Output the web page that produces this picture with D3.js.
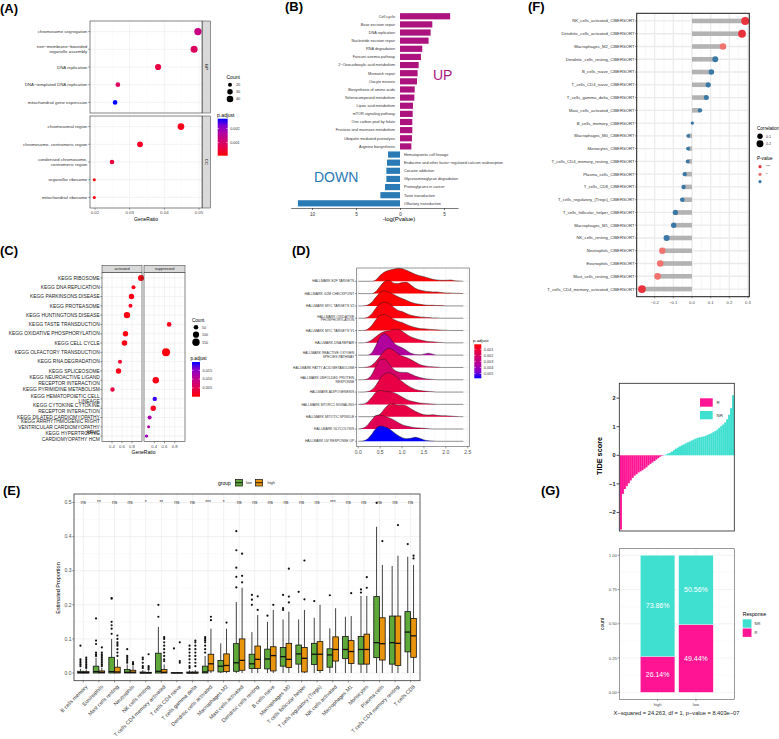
<!DOCTYPE html>
<html><head><meta charset="utf-8">
<script src="https://cdn.jsdelivr.net/npm/d3@7"></script>
<style>body{margin:0;background:#fff}svg{display:block;font-family:"Liberation Sans",Arial,sans-serif}</style>
</head><body><svg id="fig" width="779" height="739"></svg>
<script>
// ---------- (A) GO enrichment ----------
const goTermsBP = ["chromosome segregation","non\u2212membrane\u2212bounded\norganelle assembly","DNA replication","DNA\u2212templated DNA replication","mitochondrial gene expression"];
const goRatioBP = [0.0497,0.0486,0.0382,0.0266,0.0258];
const goCountBP = [47,44,36,24,24];
const goPadjBP = [0.0013,0.0009,0.0006,0.0009,0.0027];
const goTermsCC = ["chromosomal region","chromosome, centromeric region","condensed chromosome,\ncentromeric region","organellar ribosome","mitochondrial ribosome"];
const goRatioCC = [0.0448,0.033,0.0249,0.0198,0.0198];
const goCountCC = [41,33,24,15,15];
const goPadjCC = [0.0002,0.0003,0.0005,0.0001,0.0001];

// ---------- (B) KEGG up/down ----------
const keggUp = ["Cell cycle","Base excision repair","DNA replication","Nucleotide excision repair","RNA degradation","Fanconi anemia pathway","2\u2212Oxocarboxylic acid metabolism","Mismatch repair","Oocyte meiosis","Biosynthesis of amino acids","Selenocompound metabolism","Lipoic acid metabolism","mTOR signaling pathway","One carbon pool by folate","Fructose and mannose metabolism","Ubiquitin mediated proteolysis","Arginine biosynthesis"];
const keggUpVal = [5.7,3.67,3.48,3.25,2.53,2.38,2.12,2.0,1.93,1.67,1.63,1.48,1.44,1.4,1.4,1.36,1.29];
const keggDown = ["Hematopoietic cell lineage","Endocrine and other factor\u2212regulated calcium reabsorption","Cocaine addiction","Glycosaminoglycan degradation","Proteoglycans in cancer","Taste transduction","Olfactory transduction"];
const keggDownVal = [-1.36,-1.48,-1.55,-1.55,-1.7,-2.23,-11.6];

// ---------- (C) GSEA KEGG ----------
const gseaTerms = ["KEGG RIBOSOME","KEGG DNA REPLICATION","KEGG PARKINSONS DISEASE","KEGG PROTEASOME","KEGG HUNTINGTONS DISEASE","KEGG TASTE TRANSDUCTION","KEGG OXIDATIVE PHOSPHORYLATION","KEGG CELL CYCLE","KEGG OLFACTORY TRANSDUCTION","KEGG RNA DEGRADATION","KEGG SPLICEOSOME","KEGG NEUROACTIVE LIGAND\nRECEPTOR INTERACTION","KEGG PYRIMIDINE METABOLISM","KEGG HEMATOPOIETIC CELL\nLINEAGE","KEGG CYTOKINE CYTOKINE\nRECEPTOR INTERACTION","KEGG DILATED CARDIOMYOPATHY","KEGG ARRHYTHMOGENIC RIGHT\nVENTRICULAR CARDIOMYOPATHY\nARVC","KEGG HYPERTROPHIC\nCARDIOMYOPATHY HCM"];
const gseaGroup = ["activated","activated","activated","activated","activated","suppressed","activated","activated","suppressed","activated","activated","suppressed","activated","suppressed","suppressed","suppressed","suppressed","suppressed"];
const gseaRatio = [0.98,0.83,0.79,0.77,0.70,0.69,0.67,0.65,0.63,0.56,0.53,0.43,0.41,0.41,0.38,0.31,0.29,0.25];
const gseaCount = [94,35,74,35,110,50,74,80,180,35,74,110,45,45,74,35,14,21];
const gseaPadj = [0.0005,0.0008,0.0006,0.0015,0.0007,0.0008,0.0006,0.0007,0.0005,0.002,0.0008,0.0008,0.004,0.019,0.0012,0.013,0.012,0.014];

// ---------- (D) hallmark ridges ----------
const hallTerms = ["HALLMARK E2F TARGETS","HALLMARK G2M CHECKPOINT","HALLMARK MYC TARGETS V2","HALLMARK OXIDATIVE\nPHOSPHORYLATION","HALLMARK MYC TARGETS V1","HALLMARK DNA REPAIR","HALLMARK REACTIVE OXYGEN\nSPECIES PATHWAY","HALLMARK FATTY ACID METABOLISM","HALLMARK UNFOLDED PROTEIN\nRESPONSE","HALLMARK ADIPOGENESIS","HALLMARK MTORC1 SIGNALING","HALLMARK MITOTIC SPINDLE","HALLMARK GLYCOLYSIS","HALLMARK UV RESPONSE UP"];
const hallPadj = [0.0002,0.0002,0.0002,0.0003,0.0003,0.001,0.0035,0.0015,0.0022,0.0013,0.0014,0.0013,0.0017,0.0058];
const ridgeX = [0,0.1,0.2,0.3,0.4,0.5,0.6,0.7,0.8,0.9,1.0,1.1,1.2,1.3,1.4,1.5,1.6,1.7,1.8,1.9,2.0,2.1,2.2,2.3,2.4];
const ridgeDensity = [
  [0,0,0,0,4,18,28,33,36,39,38,33,27,21,17,14,10,6,4,3,3,4,2,1,0],
  [0,0,0,0,6,22,36,40,32,30,33,34,26,16,11,8,6,5,5,3,2,2,1,1,0],
  [0,0,2,10,26,40,45,41,35,28,22,17,11,7,5,3,2,2,1,1,0,0,0,0,0],
  [0,0,2,12,30,44,48,44,34,24,20,14,9,6,4,3,2,1,1,0,0,0,0,0,0],
  [0,0,3,14,32,46,48,42,34,28,24,18,13,9,6,5,4,3,2,1,1,0,0,0,0],
  [0,0,2,8,18,28,34,36,40,41,35,26,18,13,9,6,4,3,2,1,0,0,0,0,0],
  [0,0,0,6,28,55,64,55,38,28,22,14,6,2,1,3,6,3,0,0,0,0,0,0,0],
  [0,0,1,6,18,34,50,57,52,42,34,30,24,16,9,5,3,2,1,0,0,0,0,0,0],
  [0,0,2,14,40,60,62,48,32,24,22,22,17,11,7,4,2,1,0,0,0,0,0,0,0],
  [0,0,1,6,20,40,54,58,52,42,32,22,14,8,5,3,2,1,0,0,0,0,0,0,0],
  [0,1,6,20,36,42,40,38,36,30,22,15,10,7,4,3,2,1,0,0,0,0,0,0,0],
  [0,0,0,0,2,8,24,36,38,34,35,32,24,16,10,6,5,6,4,3,3,2,1,0,0],
  [0,2,10,26,40,42,38,34,28,20,13,9,6,4,3,2,1,0,0,0,0,0,0,0,0],
  [0,1,6,20,38,46,44,38,28,18,11,8,9,12,9,4,2,1,0,0,0,0,0,0,0]
];

// ---------- (E) CIBERSORT boxplots ----------
const immuneCells = ["B cells memory","Eosinophils","Mast cells resting","Neutrophils","NK cells resting","T cells CD4 memory activated","T cells CD4 naive","T cells gamma delta","Dendritic cells activated","Macrophages M2","Mast cells activated","Dendritic cells resting","B cells naive","Macrophages M0","T cells follicular helper","T cells regulatory (Tregs)","NK cells activated","Macrophages M1","Monocytes","Plasma cells","T cells CD4 memory resting","T cells CD8"];
const immuneSig = ["ns","**","ns","ns","*","**","ns","ns","***","*","ns","ns","ns","ns","ns","ns","***","ns","ns","ns","ns","ns"];
// [lower whisker, Q1, median, Q3, upper whisker]
const lowStats = [[0,0,0.001,0.005,0.012],[0,0,0.004,0.02,0.045],[0,0,0.004,0.046,0.1],[0,0,0.002,0.01,0.025],[0,0,0,0.003,0.008],[0,0,0.005,0.058,0.135],[0,0,0,0.001,0.003],[0,0,0,0.003,0.008],[0,0,0.003,0.02,0.05],[0,0.003,0.02,0.037,0.087],[0,0.005,0.03,0.086,0.208],[0,0.013,0.027,0.055,0.12],[0,0.012,0.041,0.07,0.15],[0,0.02,0.048,0.075,0.157],[0,0.026,0.056,0.082,0.157],[0,0.025,0.055,0.087,0.162],[0,0.017,0.053,0.071,0.131],[0,0.042,0.069,0.107,0.165],[0,0.026,0.069,0.107,0.226],[0,0.045,0.089,0.224,0.429],[0,0.026,0.089,0.167,0.314],[0,0.062,0.12,0.18,0.341]];
const highStats = [[0,0,0.001,0.004,0.01],[0,0,0.002,0.006,0.015],[0,0,0.003,0.017,0.04],[0,0,0.002,0.008,0.02],[0,0,0,0.002,0.005],[0,0,0.002,0.01,0.025],[0,0,0,0.001,0.003],[0,0,0,0.003,0.008],[0,0.006,0.027,0.055,0.13],[0,0.004,0.022,0.056,0.13],[0,0.008,0.037,0.1,0.25],[0,0.013,0.04,0.079,0.17],[0,0.006,0.051,0.077,0.185],[0,0.016,0.04,0.087,0.18],[0,0.003,0.043,0.075,0.185],[0,0.007,0.055,0.092,0.2],[0,0.035,0.069,0.106,0.19],[0,0.028,0.063,0.095,0.167],[0,0.026,0.069,0.114,0.226],[0,0.038,0.086,0.162,0.317],[0,0.022,0.087,0.167,0.344],[0,0.046,0.109,0.16,0.317]];
const lowOut = [[0.08,0.04,0.035,0.03,0.025,0.02],[0.16,0.095,0.085,0.06,0.055,0.05],[0.22,0.218,0.15,0.14,0.13,0.115],[0.07,0.05,0.045,0.04,0.035,0.03],[0.045,0.04,0.03,0.02,0.015],[0.2,0.165],[0.072],[0.08,0.07,0.06,0.05,0.04,0.03,0.02,0.015],[0.105,0.1,0.095,0.09,0.08,0.07,0.06],[],[0.416,0.36,0.309,0.282,0.251],[0.229,0.215,0.2],[0.168],[0.229,0.19,0.185],[0.238],[0.211],[0.228],[],[0.245,0.236],[0.499],[],[0.378]];
const highOut = [[0.045,0.04,0.035,0.03,0.025,0.02,0.015],[0.075,0.06,0.055,0.05,0.045,0.04,0.035,0.03,0.025,0.02],[0.11,0.1,0.09,0.085,0.08,0.07,0.06,0.05],[0.032,0.028,0.025],[0.055,0.02,0.015,0.01],[0.105,0.1,0.09,0.08,0.07,0.06,0.05,0.04,0.035],[0.09,0.035,0.03],[0.095,0.09,0.08,0.07,0.06,0.05,0.04,0.03,0.02],[0.165,0.155],[0.148],[0.35,0.285,0.266],[0.225,0.185],[0.2],[0.306,0.224,0.207],[0.33,0.216],[],[],[0.234],[0.281,0.25],[0.387],[0.434],[0.344,0.336]];

// ---------- (F) correlation lollipop ----------
const ciberCells = ["NK_cells_activated_CIBERSORT","Dendritic_cells_activated_CIBERSORT","Macrophages_M2_CIBERSORT","Dendritic_cells_resting_CIBERSORT","B_cells_naive_CIBERSORT","T_cells_CD4_naive_CIBERSORT","T_cells_gamma_delta_CIBERSORT","Mast_cells_activated_CIBERSORT","B_cells_memory_CIBERSORT","Macrophages_M0_CIBERSORT","Monocytes_CIBERSORT","T_cells_CD4_memory_resting_CIBERSORT","Plasma_cells_CIBERSORT","T_cells_CD8_CIBERSORT","T_cells_regulatory_(Tregs)_CIBERSORT","T_cells_follicular_helper_CIBERSORT","Macrophages_M1_CIBERSORT","NK_cells_resting_CIBERSORT","Neutrophils_CIBERSORT","Eosinophils_CIBERSORT","Mast_cells_resting_CIBERSORT","T_cells_CD4_memory_activated_CIBERSORT"];
const ciberCor = [0.285,0.268,0.166,0.125,0.104,0.087,0.077,0.043,0.002,-0.02,-0.021,-0.023,-0.039,-0.045,-0.052,-0.089,-0.098,-0.136,-0.159,-0.17,-0.184,-0.268];
const ciberSig = ["***","***","*","","","","","","","","","","","","","","","","*","*","*","***"];

// ---------- (G) TIDE ----------
const tideR = [-2.6,-1.35,-1.18,-1.08,-0.98,-0.88,-0.79,-0.71,-0.66,-0.6,-0.56,-0.52,-0.47,-0.42,-0.35,-0.3,-0.25,-0.2,-0.15,-0.1,-0.05,-0.02];
const tideNR = [0.01,0.03,0.06,0.09,0.13,0.18,0.23,0.27,0.31,0.35,0.38,0.42,0.45,0.48,0.52,0.55,0.58,0.61,0.63,0.64,0.66,0.68,0.71,0.74,0.77,0.81,0.85,0.9,0.96,1.02,1.08,1.15,1.26,1.42,1.65,2.1];
const respGroups = ["high","low"];
const respR = [0.2614,0.4944];
const respNR = [0.7386,0.5056];

const svg = d3.select("#fig");
const defs = svg.append("defs");
const GRID = "#ebebeb", AX = "#4d4d4d";

function mtext(g, x, y, s, size, anchor, fill) {
  const lines = s.split("\n"), lh = size * 1.12;
  const t = g.append("text").attr("text-anchor", anchor).attr("font-size", size).attr("fill", fill || AX);
  lines.forEach((l, i) => t.append("tspan").attr("x", x)
    .attr("y", y + (i - (lines.length - 1) / 2) * lh).attr("dy", "0.35em").text(l));
  return t;
}
function hl(g, x0, x1, y, c, w) { g.append("line").attr("x1", x0).attr("x2", x1).attr("y1", y).attr("y2", y).attr("stroke", c).attr("stroke-width", w); }
function vl(g, x, y0, y1, c, w) { g.append("line").attr("x1", x).attr("x2", x).attr("y1", y0).attr("y2", y1).attr("stroke", c).attr("stroke-width", w); }
function box(g, x0, y0, x1, y1, fill, stroke, w) {
  return g.append("rect").attr("x", x0).attr("y", y0).attr("width", x1 - x0).attr("height", y1 - y0)
    .attr("fill", fill).attr("stroke", stroke || "none").attr("stroke-width", w || 0);
}
function colorbar(id, g, x, y, w, h, scale, topV, botV, labels) {
  const lg = defs.append("linearGradient").attr("id", id).attr("x1", 0).attr("x2", 0).attr("y1", 0).attr("y2", 1);
  [0, 0.2, 0.4, 0.6, 0.8, 1].forEach(o => lg.append("stop").attr("offset", o).attr("stop-color", scale(topV + (botV - topV) * o)));
  box(g, x, y, x + w, y + h, `url(#${id})`);
  const ly = d3.scaleLinear().domain([topV, botV]).range([y, y + h]);
  labels.forEach(v => {
    hl(g, x, x + 1.5, ly(v), "#fff", 0.5); hl(g, x + w - 1.5, x + w, ly(v), "#fff", 0.5);
    g.append("text").attr("x", x + w + 2.5).attr("y", ly(v)).attr("dy", "0.35em").attr("font-size", 3.8).attr("fill", "#333").text(d3.format(".3f")(v));
  });
}
function panelLabel(s, x, y) {
  svg.append("text").attr("x", x).attr("y", y).attr("font-size", 13).attr("font-weight", "bold").attr("fill", "#000").text(s);
}
const redBlue = (lo, hi) => d3.scaleLinear().domain([lo, hi]).range(["#ff0000", "#0000ff"]).interpolate(d3.interpolateLab);

panelLabel("(A)", 0, 12.5); panelLabel("(B)", 285, 10.5); panelLabel("(F)", 528, 10.5);
panelLabel("(C)", 0, 254.5); panelLabel("(D)", 292, 255); panelLabel("(E)", 3, 494.5); panelLabel("(G)", 541, 495);

// ===== A =====
{
  const g = svg.append("g");
  const x = d3.scaleLinear().domain([0.01856, 0.05087]).range([90, 202]);
  const area = d3.scaleLinear().domain([20, 40]).range([4, 10.9]);
  const col = redBlue(0.00007, 0.0027);
  const facets = [
    {strip: "BP", terms: goTermsBP, ratio: goRatioBP, count: goCountBP, padj: goPadjBP, y0: 21, y1: 113},
    {strip: "CC", terms: goTermsCC, ratio: goRatioCC, count: goCountCC, padj: goPadjCC, y0: 116, y1: 208}];
  facets.forEach(f => {
    const y = d3.scalePoint().domain(f.terms).range([f.y0, f.y1]).padding(0.6);
    box(g, 90, f.y0, 202, f.y1, "#fff");
    [0.025, 0.035, 0.045].forEach(v => vl(g, x(v), f.y0, f.y1, "#f3f3f3", 0.35));
    [0.02, 0.03, 0.04, 0.05].forEach(v => vl(g, x(v), f.y0, f.y1, GRID, 0.6));
    f.terms.forEach(t => hl(g, 90, 202, y(t), GRID, 0.6));
    f.terms.forEach((t, i) => {
      g.append("circle").attr("cx", x(f.ratio[i])).attr("cy", y(t)).attr("r", Math.sqrt(area(f.count[i]))).attr("fill", col(f.padj[i]));
      hl(g, 88.3, 90, y(t), "#333", 0.5);
      mtext(g, 87.3, y(t), t, 4.4, "end", "#333");
    });
    box(g, 90, f.y0, 202, f.y1, "none", "#333", 0.6);
    box(g, 202.5, f.y0, 210.5, f.y1, "#d9d9d9", "#333", 0.5);
    g.append("text").attr("transform", `translate(${206.5},${(f.y0 + f.y1) / 2}) rotate(90)`).attr("text-anchor", "middle")
      .attr("dy", "0.35em").attr("font-size", 4.4).attr("fill", "#1a1a1a").text(f.strip);
  });
  [0.02, 0.03, 0.04, 0.05].forEach(v => {
    vl(g, x(v), 208, 209.7, "#333", 0.5);
    g.append("text").attr("x", x(v)).attr("y", 213.5).attr("text-anchor", "middle").attr("font-size", 4.4).attr("fill", AX).text(d3.format(".2f")(v));
  });
  g.append("text").attr("x", 146).attr("y", 221).attr("text-anchor", "middle").attr("font-size", 5).text("GeneRatio");
  g.append("text").attr("x", 226.5).attr("y", 79).attr("font-size", 5).text("Count");
  [[20, 84.7], [30, 91.7], [40, 99]].forEach(([c, yy]) => {
    g.append("circle").attr("cx", 230).attr("cy", yy).attr("r", Math.sqrt(area(c))).attr("fill", "#000");
    g.append("text").attr("x", 236).attr("y", yy).attr("dy", "0.35em").attr("font-size", 3.8).attr("fill", "#333").text(c);
  });
  g.append("text").attr("x", 217).attr("y", 117).attr("font-size", 5).text("p.adjust");
  colorbar("gA", g, 217.7, 118.7, 10, 37, col, 0.0027, 0.00007, [0.002, 0.001]);
}

// ===== B =====
{
  const g = svg.append("g");
  const x = d3.scaleLinear().domain([-12.42, 6.59]).range([290.7, 458]);
  const y = d3.scaleBand().domain(keggUp.concat(keggDown)).range([12.2, 207.4]).paddingInner(0.24).paddingOuter(0.12);
  const rows = keggUp.map((k, i) => ({k, v: keggUpVal[i], up: true})).concat(keggDown.map((k, i) => ({k, v: keggDownVal[i], up: false})));
  rows.forEach(r => {
    box(g, x(Math.min(0, r.v)), y(r.k), x(Math.max(0, r.v)), y(r.k) + y.bandwidth(), r.up ? "#ac137f" : "#2a7ab6");
    g.append("text").attr("x", r.up ? 395 : 404).attr("y", y(r.k) + y.bandwidth() / 2).attr("dy", "0.35em")
      .attr("text-anchor", r.up ? "end" : "start").attr("font-size", 3.8).attr("fill", "#333").text(r.k);
  });
  const ax = g.append("g").attr("transform", "translate(0,208)")
    .call(d3.axisBottom(x).tickValues([-10, -5, 0, 5]).tickFormat(d => Math.abs(d)).tickSize(2).tickSizeOuter(0));
  ax.selectAll("text").attr("font-size", 4.6).attr("fill", "#333").attr("font-family", null);
  ax.selectAll("line,path").attr("stroke", "#222").attr("stroke-width", 0.6);
  g.append("text").attr("x", 399).attr("y", 221).attr("text-anchor", "middle").attr("font-size", 6).text("-log(Pvalue)");
  g.append("text").attr("x", 433).attr("y", 79.5).attr("font-size", 14).attr("fill", "#ac137f").text("UP");
  g.append("text").attr("x", 314).attr("y", 181.5).attr("font-size", 14).attr("fill", "#2a7ab6").text("DOWN");
}

// ===== F =====
{
  const g = svg.append("g");
  const x = d3.scaleLinear().domain([-0.296, 0.307]).range([636.7, 749.3]);
  const y = d3.scalePoint().domain(ciberCells).range([13.3, 296.7]).padding(0.6);
  const rad = c => Math.sqrt(2.9 + 46.3 * (Math.abs(c) - 0.002));
  const sigCol = {"***": "#e8333d", "*": "#f0736f", "": "#3a78a6"};
  box(g, 636.7, 13.3, 749.3, 296.7, "#fff");
  [-0.25, -0.15, -0.05, 0.05, 0.15, 0.25].forEach(v => vl(g, x(v), 13.3, 296.7, "#f2f2f2", 0.7));
  [-0.2, -0.1, 0, 0.1, 0.2, 0.3].forEach(v => vl(g, x(v), 13.3, 296.7, GRID, 1.3));
  ciberCells.forEach(c => hl(g, 636.7, 749.3, y(c), GRID, 1.3));
  ciberCells.forEach((c, i) => {
    const v = ciberCor[i];
    box(g, x(Math.min(0, v)), y(c) - 2.3, x(Math.max(0, v)), y(c) + 2.3, "#b3b3b3");
  });
  ciberCells.forEach((c, i) => {
    g.append("circle").attr("cx", x(ciberCor[i])).attr("cy", y(c)).attr("r", rad(ciberCor[i])).attr("fill", sigCol[ciberSig[i]]);
    hl(g, 635, 636.7, y(c), "#333", 0.5);
    g.append("text").attr("x", 634.5).attr("y", y(c)).attr("dy", "0.35em").attr("text-anchor", "end").attr("font-size", 4.2).attr("fill", "#333").text(c);
  });
  box(g, 636.7, 13.3, 749.3, 296.7, "none", "#1a1a1a", 1);
  [-0.2, -0.1, 0, 0.1, 0.2, 0.3].forEach(v => {
    vl(g, x(v), 296.7, 298.4, "#333", 0.5);
    g.append("text").attr("x", x(v)).attr("y", 303.5).attr("text-anchor", "middle").attr("font-size", 4.2).attr("fill", AX).text(d3.format(".1f")(v));
  });
  g.append("text").attr("x", 757).attr("y", 129.5).attr("font-size", 4.6).text("Correlation");
  [[0.1, 136.3], [0.2, 143.7]].forEach(([c, yy]) => {
    g.append("circle").attr("cx", 760).attr("cy", yy).attr("r", rad(c)).attr("fill", "#000");
    g.append("text").attr("x", 766).attr("y", yy).attr("dy", "0.35em").attr("font-size", 3.6).attr("fill", "#333").text(c.toFixed(1));
  });
  g.append("text").attr("x", 757).attr("y", 160).attr("font-size", 4.6).text("P-value");
  [["***", 166.7], ["*", 174.3], ["", 181.7]].forEach(([s, yy]) => {
    g.append("circle").attr("cx", 760).attr("cy", yy).attr("r", 1.6).attr("fill", sigCol[s]);
    g.append("text").attr("x", 766).attr("y", yy).attr("dy", "0.35em").attr("font-size", 3.6).attr("fill", "#333").text(s);
  });
}

// ===== C =====
{
  const g = svg.append("g");
  const y = d3.scalePoint().domain(gseaTerms).range([272.3, 441.7]).padding(0.6);
  const col = redBlue(0, 0.0197);
  const rad = c => Math.sqrt(1.09 + 0.084 * c);
  const facets = [{name: "activated", x0: 102, x1: 142}, {name: "suppressed", x0: 144, x1: 185}];
  facets.forEach(f => {
    const x = d3.scaleLinear().domain([0.2, 1.0]).range([f.x0, f.x1]);
    box(g, f.x0, 272.3, f.x1, 441.7, "#fff");
    [0.3, 0.5, 0.7, 0.9].forEach(v => vl(g, x(v), 272.3, 441.7, "#f3f3f3", 0.35));
    [0.4, 0.6, 0.8].forEach(v => vl(g, x(v), 272.3, 441.7, GRID, 0.6));
    gseaTerms.forEach(t => hl(g, f.x0, f.x1, y(t), GRID, 0.6));
    gseaTerms.forEach((t, i) => {
      if (gseaGroup[i] !== f.name) return;
      g.append("circle").attr("cx", x(gseaRatio[i])).attr("cy", y(t)).attr("r", rad(gseaCount[i])).attr("fill", col(gseaPadj[i]));
    });
    box(g, f.x0, 272.3, f.x1, 441.7, "none", "#333", 0.6);
    box(g, f.x0, 265.3, f.x1, 272.3, "#d9d9d9", "#333", 0.5);
    g.append("text").attr("x", (f.x0 + f.x1) / 2).attr("y", 268.8).attr("dy", "0.35em").attr("text-anchor", "middle")
      .attr("font-size", 3.8).attr("fill", "#1a1a1a").text(f.name);
    [0.4, 0.6, 0.8].forEach(v => {
      vl(g, x(v), 441.7, 443.3, "#333", 0.5);
      g.append("text").attr("x", x(v)).attr("y", 447.5).attr("text-anchor", "middle").attr("font-size", 4.2).attr("fill", AX).text(v.toFixed(1));
    });
  });
  gseaTerms.forEach(t => {
    hl(g, 100.3, 102, y(t), "#333", 0.5);
    mtext(g, 99.8, y(t), t, 4.9, "end", "#1a1a1a");
  });
  g.append("text").attr("x", 143.5).attr("y", 454).attr("text-anchor", "middle").attr("font-size", 5).text("GeneRatio");
  g.append("text").attr("x", 192).attr("y", 321.5).attr("font-size", 4.6).text("Count");
  [[50, 327.3], [100, 334.7], [150, 342.3]].forEach(([c, yy]) => {
    g.append("circle").attr("cx", 196).attr("cy", yy).attr("r", rad(c)).attr("fill", "#000");
    g.append("text").attr("x", 202).attr("y", yy).attr("dy", "0.35em").attr("font-size", 3.6).attr("fill", "#333").text(c);
  });
  g.append("text").attr("x", 190.5).attr("y", 360).attr("font-size", 4.6).text("p.adjust");
  colorbar("gC", g, 192, 362, 8, 34.7, col, 0.0197, 0, [0.015, 0.010, 0.005]);
}

// ===== D =====
{
  const g = svg.append("g");
  const x = d3.scaleLinear().domain([0, 2.5]).range([358.3, 467.7]);
  const y = d3.scalePoint().domain(hallTerms).range([281.3, 441.3]);
  const h = d3.scaleLinear().domain([0, 60]).range([0, 20]);
  const col = redBlue(0.00017, 0.0058);
  box(g, 356.7, 268, 469.3, 446.7, "#fff");
  [0.25, 0.75, 1.25, 1.75, 2.25].forEach(v => vl(g, x(v), 268, 446.7, "#f3f3f3", 0.35));
  [0, 0.5, 1, 1.5, 2, 2.5].forEach(v => vl(g, x(v), 268, 446.7, GRID, 0.6));
  hallTerms.forEach(t => hl(g, 356.7, 469.3, y(t), GRID, 0.6));
  hallTerms.forEach((t, i) => {
    const pts = ridgeX.map((xv, j) => [xv, ridgeDensity[i][j]]);
    const base = y(t);
    g.append("path").datum(pts).attr("fill", col(hallPadj[i]))
      .attr("d", d3.area().x(d => x(d[0])).y0(base).y1(d => base - h(d[1])).curve(d3.curveMonotoneX));
    g.append("path").datum(pts).attr("fill", "none").attr("stroke", "#1a1a1a").attr("stroke-width", 0.45)
      .attr("d", d3.line().x(d => x(d[0])).y(d => base - h(d[1])).curve(d3.curveMonotoneX));
  });
  box(g, 356.7, 268, 469.3, 446.7, "none", "#555", 0.6);
  hallTerms.forEach(t => {
    hl(g, 355, 356.7, y(t), "#333", 0.5);
    mtext(g, 354.3, y(t), t, 3.4, "end", "#333");
  });
  [0, 0.5, 1, 1.5, 2, 2.5].forEach(v => {
    vl(g, x(v), 446.7, 448.4, "#333", 0.5);
    g.append("text").attr("x", x(v)).attr("y", 453.5).attr("text-anchor", "middle").attr("font-size", 5).attr("fill", AX).text(v.toFixed(1));
  });
  g.append("text").attr("x", 473).attr("y", 342).attr("font-size", 4.4).text("p.adjust");
  colorbar("gD", g, 474.3, 344.3, 7, 34, col, 0.00017, 0.0058, [0.001, 0.002, 0.003, 0.004, 0.005]);
}

// ===== E =====
{
  const g = svg.append("g");
  const x = d3.scalePoint().domain(immuneCells).range([74, 420]).padding(0.6);
  const y = d3.scaleLinear().domain([-0.0226, 0.525]).range([680.7, 494]);
  const LOW = "#5fa83a", HIGH = "#e8940c", bw = 5.6;
  box(g, 74, 494, 420, 680.7, "#fff");
  [0.05, 0.15, 0.25, 0.35, 0.45].forEach(v => hl(g, 74, 420, y(v), "#f3f3f3", 0.4));
  [0, 0.1, 0.2, 0.3, 0.4, 0.5].forEach(v => hl(g, 74, 420, y(v), GRID, 0.7));
  immuneCells.forEach(c => vl(g, x(c), 494, 680.7, GRID, 0.7));
  function drawBox(cx, s, out, fill) {
    vl(g, cx, y(s[0]), y(s[1]), "#111", 0.8);
    vl(g, cx, y(s[3]), y(s[4]), "#111", 0.8);
    box(g, cx - bw / 2, y(s[3]), cx + bw / 2, y(s[1]), fill, "#111", 0.8);
    hl(g, cx - bw / 2, cx + bw / 2, y(s[2]), "#111", 1.3);
    out.forEach(v => g.append("circle").attr("cx", cx).attr("cy", y(v)).attr("r", 1.1).attr("fill", "#111"));
  }
  immuneCells.forEach((c, i) => {
    drawBox(x(c) - 2.9, lowStats[i], lowOut[i], LOW);
    drawBox(x(c) + 2.9, highStats[i], highOut[i], HIGH);
    g.append("text").attr("x", x(c)).attr("y", 504).attr("text-anchor", "middle").attr("font-size", 4.8).attr("fill", "#333").text(immuneSig[i]);
    vl(g, x(c), 680.7, 682.4, "#333", 0.5);
    g.append("text").attr("transform", `translate(${x(c) + 2},${684.5}) rotate(-45)`).attr("text-anchor", "end")
      .attr("dy", "0.7em").attr("font-size", 5.3).attr("fill", "#333").text(c);
  });
  box(g, 74, 494, 420, 680.7, "none", "#333", 0.8);
  [0, 0.1, 0.2, 0.3, 0.4, 0.5].forEach(v => {
    hl(g, 72.3, 74, y(v), "#333", 0.5);
    g.append("text").attr("x", 71.5).attr("y", y(v)).attr("dy", "0.35em").attr("text-anchor", "end").attr("font-size", 5).attr("fill", AX).text(v.toFixed(1));
  });
  g.append("text").attr("transform", "translate(60,588) rotate(-90)").attr("text-anchor", "middle").attr("font-size", 5.5).text("Estimated Proportion");
  g.append("text").attr("x", 218).attr("y", 484.5).attr("font-size", 5).text("group");
  [[235.5, LOW, "low", 246], [255.5, HIGH, "high", 267.5]].forEach(([kx, f, s, tx]) => {
    box(g, kx, 479.5, kx + 7, 486, f, "#111", 0.7);
    hl(g, kx, kx + 7, 482.7, "#111", 0.9);
    g.append("text").attr("x", tx).attr("y", 482.7).attr("dy", "0.35em").attr("font-size", 4).attr("fill", "#333").text(s);
  });
}

// ===== G top: TIDE waterfall =====
{
  const g = svg.append("g");
  const PINK = "#ff1493", TURQ = "#40e0d0";
  const vals = tideR.map(v => ({v, c: PINK})).concat(tideNR.map(v => ({v, c: TURQ})));
  const x = d3.scaleBand().domain(d3.range(vals.length)).range([619.8, 734]).padding(0);
  const y = d3.scaleLinear().domain([-2.65, 2.52]).range([531, 383.3]);
  box(g, 619.3, 383.3, 734.3, 531, "#fff");
  vals.forEach((d, i) => box(g, x(i), y(Math.max(0, d.v)), x(i) + x.bandwidth() + 0.15, y(Math.min(0, d.v)), d.c));
  box(g, 619.3, 383.3, 734.3, 531, "none", "#222", 0.8);
  [-2, -1, 0, 1, 2].forEach(v => {
    hl(g, 616.5, 619.3, y(v), "#222", 0.8);
    g.append("text").attr("x", 615.5).attr("y", y(v)).attr("dy", "0.35em").attr("text-anchor", "end")
      .attr("font-size", 5.6).attr("font-weight", "bold").attr("fill", "#222").text(d3.format("d")(v));
  });
  g.append("text").attr("transform", "translate(602,456) rotate(-90)").attr("text-anchor", "middle")
    .attr("font-size", 7.3).attr("font-weight", "bold").text("TIDE score");
  box(g, 700, 398.3, 712.7, 406.7, PINK);
  box(g, 700, 411, 712.7, 419.3, TURQ);
  g.append("text").attr("x", 716.5).attr("y", 402.5).attr("dy", "0.35em").attr("font-size", 4.4).attr("fill", "#333").text("R");
  g.append("text").attr("x", 716.5).attr("y", 415.2).attr("dy", "0.35em").attr("font-size", 4.4).attr("fill", "#333").text("NR");

  // ===== G bottom: response proportions =====
  const xb = d3.scaleBand().domain(respGroups).range([619.3, 734.3]).paddingInner(0.1).paddingOuter(0.55);
  const yb = d3.scaleLinear().domain([-0.051, 1.048]).range([699.3, 548.7]);
  box(g, 619.3, 548.7, 734.3, 699.3, "#fff");
  [0.125, 0.375, 0.625, 0.875].forEach(v => hl(g, 619.3, 734.3, yb(v), "#f3f3f3", 0.35));
  [0, 0.25, 0.5, 0.75, 1].forEach(v => hl(g, 619.3, 734.3, yb(v), GRID, 0.6));
  respGroups.forEach(k => vl(g, xb(k) + xb.bandwidth() / 2, 548.7, 699.3, GRID, 0.6));
  respGroups.forEach((k, i) => {
    const x0 = xb(k), x1 = xb(k) + xb.bandwidth(), cx = (x0 + x1) / 2;
    box(g, x0, yb(respR[i]), x1, yb(0), PINK, "#fff", 0.3);
    box(g, x0, yb(1), x1, yb(respR[i]), TURQ, "#fff", 0.3);
    g.append("text").attr("x", cx).attr("y", yb(respR[i] + respNR[i] / 2)).attr("dy", "0.35em").attr("text-anchor", "middle")
      .attr("font-size", 7).attr("fill", "#fff").text((respNR[i] * 100).toFixed(2) + "%");
    g.append("text").attr("x", cx).attr("y", yb(respR[i] / 2)).attr("dy", "0.35em").attr("text-anchor", "middle")
      .attr("font-size", 7).attr("fill", "#fff").text((respR[i] * 100).toFixed(2) + "%");
    vl(g, cx, 699.3, 701, "#333", 0.5);
    g.append("text").attr("x", cx).attr("y", 705.5).attr("text-anchor", "middle").attr("font-size", 4.2).attr("fill", AX).text(k);
  });
  box(g, 619.3, 548.7, 734.3, 699.3, "none", "#555", 0.6);
  [0, 0.25, 0.5, 0.75, 1].forEach(v => {
    hl(g, 617.6, 619.3, yb(v), "#333", 0.5);
    g.append("text").attr("x", 616.8).attr("y", yb(v)).attr("dy", "0.35em").attr("text-anchor", "end").attr("font-size", 4.2).attr("fill", AX).text(v.toFixed(2));
  });
  g.append("text").attr("transform", "translate(604,624) rotate(-90)").attr("text-anchor", "middle").attr("font-size", 5).text("count");
  g.append("text").attr("x", 676.5).attr("y", 714.5).attr("text-anchor", "middle").attr("font-size", 5.7).attr("fill", "#1a1a1a")
    .text("X\u2212squared = 24.263, df = 1, p\u2212value = 8.403e\u221207");
  g.append("text").attr("x", 742.7).attr("y", 615.5).attr("font-size", 5.2).text("Response");
  box(g, 742.7, 619.3, 751.5, 627.7, TURQ);
  box(g, 742.7, 628.5, 751.5, 636.9, PINK);
  g.append("text").attr("x", 754.5).attr("y", 623.5).attr("dy", "0.35em").attr("font-size", 4).attr("fill", "#333").text("NR");
  g.append("text").attr("x", 754.5).attr("y", 632.7).attr("dy", "0.35em").attr("font-size", 4).attr("fill", "#333").text("R");
}
</script></body></html>
